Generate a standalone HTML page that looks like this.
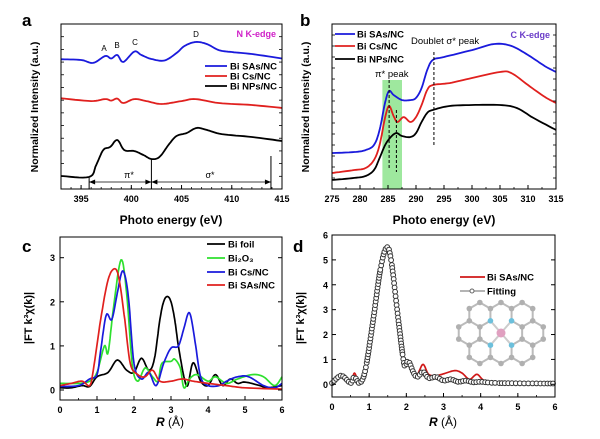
<!DOCTYPE html>
<html><head><meta charset="utf-8"><style>
html,body{margin:0;padding:0;background:#fff;}
svg{display:block;font-family:"Liberation Sans",Arial,sans-serif;}
</style></head><body>
<svg id="fig" width="600" height="439" viewBox="0 0 600 439" xmlns="http://www.w3.org/2000/svg"></svg>
<script>
// ---------- data ----------
const aEnergy = [393,395,396.2,397.4,398,398.6,399.2,400.3,401,402,403.3,404.5,405.3,406.4,407.5,408.7,410,412,415];
const aSAs    = [7.86,7.82,7.64,8.06,7.91,8.12,7.7,8.33,8.12,7.88,7.79,8.24,8.67,8.91,8.79,8.42,8.3,8.18,7.91];
const aCsEnergy = [393,396,397.4,398,398.6,399.2,400.3,401.5,403,405,406.4,408.7,412,415];
const aCs       = [5.5,5.33,5.45,5.36,5.48,5.21,5.45,5.33,5.15,5.33,5.45,5.21,5.09,4.91];
const aNPsEnergy = [393,395.8,396.5,397.2,397.9,398.6,399.3,400.3,401.2,402,402.8,403.7,404.5,405.5,406.5,407.5,409,412,415];
const aNPs       = [0.79,0.73,1.45,2.36,2.55,2.97,2.36,2.3,2.06,1.82,1.94,2.67,3.21,3.39,3.7,3.58,3.33,3.15,2.91];
const aXTicks = [395,400,405,410,415];

const bSAsE = [275,279,281,282.5,283.5,284.5,285.2,286,287.5,289,290,291,292,293,295,300,304,307,310,313,315];
const bSAs  = [2.18,2.24,2.36,2.67,3.58,5.27,5.94,5.7,5.39,5.39,5.52,6.12,7.21,7.82,8.0,8.42,8.79,8.67,8.12,7.45,7.09];
const bCsE  = [275,279,281,282.5,283.5,284.5,285.2,286,286.7,287.8,289,290,291,292,293,296,300,305,307,310,313,315];
const bCs   = [0.97,1.15,1.27,1.76,2.67,4.36,5.03,4.42,4.06,4.36,4.06,4.36,5.09,6.0,6.3,6.42,6.73,7.09,7.03,6.3,5.58,5.21];
const bNPsE = [275,279,281,282.5,283.5,284.5,285.5,286.5,287.5,289,290,291,292,293,296,300,305,308,311,315];
const bNPs  = [0.55,0.67,0.79,1.15,1.88,2.67,3.15,3.39,3.21,3.15,3.39,4.06,4.61,4.79,5.03,5.09,5.09,4.91,4.3,3.58];
const bXTicks = [275,280,285,290,295,300,305,310,315];

const cFoilR = [0,0.3,0.6,0.8,1,1.3,1.55,1.8,2,2.2,2.4,2.55,2.7,2.8,2.9,3.0,3.1,3.2,3.35,3.45,3.6,3.8,4,4.2,4.4,4.6,4.8,5,5.4,5.6,6];
const cFoil  = [0.05,0.05,0.1,0.08,0.3,0.4,0.68,0.45,0.4,0.72,0.45,0.7,1.6,2.0,2.12,2.0,1.6,1.0,0.3,0.1,0.62,0.2,0.1,0.35,0.1,0.25,0.15,0.18,0.1,0.05,0.1];
const cOxR = [0,0.5,0.8,1,1.2,1.3,1.45,1.65,1.8,1.95,2.1,2.3,2.5,2.65,2.75,3,3.1,3.25,3.35,3.5,3.7,4,4.2,4.5,4.8,5.2,5.5,5.8,6];
const cOx  = [0.15,0.15,0.2,0.4,1.0,0.85,1.9,2.95,2.2,0.6,0.2,0.5,0.3,0.2,0.6,0.65,0.7,0.5,0.05,0.25,0.35,0.2,0.3,0.15,0.25,0.35,0.3,0.1,0.3];
const cCsR = [0,0.5,0.8,1,1.1,1.25,1.4,1.55,1.7,1.85,2.0,2.2,2.4,2.6,2.8,3,3.2,3.35,3.5,3.65,3.8,4,4.3,4.5,4.8,5.1,5.5,5.8,6];
const cCs  = [0.08,0.1,0.25,0.35,0.9,1.7,1.6,2.2,2.7,2.1,0.6,0.25,0.4,0.1,0.6,0.95,1.0,1.4,1.75,1.1,0.3,0.1,0.1,0.2,0.3,0.3,0.1,0.05,0.15];
const cSAsR = [0,0.3,0.6,0.8,0.9,1.1,1.3,1.48,1.6,1.75,1.9,2.1,2.3,2.5,2.7,3,3.3,3.6,4,4.5,5,6];
const cSAs  = [0.1,0.15,0.2,0.1,0.45,1.6,2.5,2.75,2.5,1.6,0.6,0.35,0.3,0.45,0.2,0.2,0.25,0.2,0.15,0.1,0.05,0.02];
const cXTicks = [0,1,2,3,4,5,6];
const cYTicks = [0,1,2,3];

const dExpR = [0,0.25,0.5,0.6,0.7,0.75,0.9,1.1,1.3,1.47,1.6,1.8,1.95,2.05,2.2,2.3,2.45,2.6,2.8,3,3.3,3.5,3.7,3.9,4.1,4.5,5,6];
const dExp  = [0.05,0.35,0.05,0.45,0.1,0.05,0.6,2.5,4.6,5.5,4.9,2.4,0.75,0.95,0.45,0.4,0.8,0.4,0.35,0.42,0.55,0.45,0.2,0.4,0.15,0.07,0.03,0.02];
const dFitR = [0,0.25,0.5,0.6,0.75,0.9,1.1,1.3,1.47,1.6,1.8,1.95,2.05,2.2,2.3,2.45,2.6,2.8,3,3.2,3.4,3.6,3.8,4,4.5,6];
const dFit  = [0.05,0.35,0.05,0.3,0.05,0.6,2.5,4.6,5.5,4.9,2.4,0.75,0.95,0.45,0.3,0.5,0.25,0.3,0.15,0.2,0.1,0.15,0.08,0.1,0.05,0.03];
const dXTicks = [0,1,2,3,4,5,6];
const dYTicks = [0,1,2,3,4,5,6];

// ---------- helpers ----------
const NS="http://www.w3.org/2000/svg";
const svg=document.getElementById('fig');
function mk(tag,attrs,parent){const e=document.createElementNS(NS,tag);for(const k in attrs)e.setAttribute(k,attrs[k]);(parent||svg).appendChild(e);return e;}
function txt(s,x,y,attrs,parent){const t=mk('text',Object.assign({x:x,y:y},attrs),parent);t.textContent=s;return t;}
function scale(d0,d1,r0,r1){return v=>r0+(v-d0)*(r1-r0)/(d1-d0);}
function smooth(xs,ys,n){const out=[];for(let i=0;i<xs.length-1;i++){const i0=Math.max(0,i-1),i3=Math.min(xs.length-1,i+2);for(let k=0;k<n;k++){const t=k/n;const f=(a,b,c,d)=>0.5*((2*b)+(-a+c)*t+(2*a-5*b+4*c-d)*t*t+(-a+3*b-3*c+d)*t*t*t);out.push([f(xs[i0],xs[i],xs[i+1],xs[i3]),f(ys[i0],ys[i],ys[i+1],ys[i3])]);}}out.push([xs[xs.length-1],ys[ys.length-1]]);return out;}
function line(xs,ys,sx,sy,color,w,name,g){const pts=smooth(xs,ys,8).map(p=>sx(p[0]).toFixed(1)+','+sy(p[1]).toFixed(1)).join(' ');const p=mk('polyline',{points:pts,fill:'none',stroke:color,'stroke-width':w,'stroke-linejoin':'round'},g);


return p;}
function frame(x0,y0,x1,y1,name){const r=mk('rect',{x:x0,y:y0,width:x1-x0,height:y1-y0,fill:'none',stroke:'#000','stroke-width':1});

}
function xticks(ticks,sx,y1,y0,minorStep,lo,hi,name){const g=mk('g',{});


for(let v=lo;v<=hi+1e-9;v+=minorStep){mk('line',{x1:sx(v),x2:sx(v),y1:y1,y2:y1-2,stroke:'#000','stroke-width':0.8},g);}
ticks.forEach(v=>{mk('line',{x1:sx(v),x2:sx(v),y1:y1,y2:y1-4,stroke:'#000','stroke-width':1},g);txt(String(v),sx(v),y1+13,{'font-size':9,'font-weight':'bold','text-anchor':'middle'},g);});}
function sideTicks(x0,x1,y0,y1,n){for(let i=1;i<n;i++){const y=y0+(y1-y0)*i/n;mk('line',{x1:x0,x2:x0+3,y1:y,y2:y,stroke:'#000','stroke-width':0.8});mk('line',{x1:x1,x2:x1-3,y1:y,y2:y,stroke:'#000','stroke-width':0.8});}}

// ---------- panel a ----------
(function(){
const X0=61,X1=282,Y0=24,Y1=189;
const sx=scale(393,415,X0,X1), sy=scale(0,10,Y1,Y0);
const g=mk('g',{});


txt('a',22,26,{'font-size':17,'font-weight':'bold'},g);
sideTicks(X0,X1,Y0,Y1,13);
line(aEnergy,aSAs,sx,sy,'#1a1adc',1.8,'a-series-bi-sas',g);
line(aCsEnergy,aCs,sx,sy,'#e0201e',1.8,'a-series-bi-cs',g);
line(aNPsEnergy,aNPs,sx,sy,'#000',1.8,'a-series-bi-nps',g);
[[395.8,178],[402,159],[413.9,156]].forEach(a=>mk('line',{x1:sx(a[0]),x2:sx(a[0]),y1:a[1],y2:Y1,stroke:'#000','stroke-width':1},g));
mk('line',{x1:sx(395.8),x2:sx(413.9),y1:182,y2:182,stroke:'#000','stroke-width':0.8},g);
[[395.8,1],[402,-1],[402,1],[413.9,-1]].forEach(a=>{const x=sx(a[0]);mk('path',{d:`M${x},182 l${a[1]*6},-2.5 l0,5 z`,fill:'#000'},g);});
txt('π*',129,178,{'font-size':9,'text-anchor':'middle'},g);
txt('σ*',210,178,{'font-size':9,'text-anchor':'middle'},g);
[['A',104,51],['B',117,48],['C',135,45],['D',196,37]].forEach(a=>txt(a[0],a[1],a[2],{'font-size':8,'text-anchor':'middle'},g));
txt('N K-edge',276,37,{'font-size':9,'font-weight':'bold',fill:'#d020c8','text-anchor':'end'},g);
[['Bi SAs/NC','#1a1adc',66],['Bi Cs/NC','#e0201e',76],['Bi NPs/NC','#000',86]].forEach(l=>{const lg=mk('g',{},g);


mk('line',{x1:205,x2:227,y1:l[2],y2:l[2],stroke:l[1],'stroke-width':1.8},lg);txt(l[0],230,l[2]+3.5,{'font-size':9.5,'font-weight':'bold'},lg);});
frame(X0,Y0,X1,Y1,'a-plot-frame');
xticks(aXTicks,sx,Y1,Y0,1,393,415,'a-x-axis');
const yt=txt('Normalized Intensity (a.u.)',0,0,{'font-size':10.5,'font-weight':'bold','text-anchor':'middle',transform:'translate(38,107) rotate(-90)'},g);

const xt=txt('Photo energy (eV)',171,224,{'font-size':12,'font-weight':'bold','text-anchor':'middle'},g);

})();

// ---------- panel b ----------
(function(){
const X0=332,X1=556,Y0=24,Y1=189;
const sx=scale(275,315,X0,X1), sy=scale(0,10,Y1,Y0);
const g=mk('g',{});


txt('b',300,26,{'font-size':17,'font-weight':'bold'},g);
const band=mk('rect',{x:sx(284),y:80,width:sx(287.5)-sx(284),height:Y1-80,fill:'#9ee89e'},g);


sideTicks(X0,X1,Y0,Y1,15);
line(bSAsE,bSAs,sx,sy,'#1a1adc',1.8,'b-series-bi-sas',g);
line(bCsE,bCs,sx,sy,'#e0201e',1.8,'b-series-bi-cs',g);
line(bNPsE,bNPs,sx,sy,'#000',1.8,'b-series-bi-nps',g);
[[285.2,80,170],[286.5,110,172],[293.2,52,145]].forEach(a=>mk('line',{x1:sx(a[0]),x2:sx(a[0]),y1:a[1],y2:a[2],stroke:'#000','stroke-width':1,'stroke-dasharray':'3,2'},g));
txt('Doublet σ* peak',411,44,{'font-size':9.5},g);
txt('π* peak',375,77,{'font-size':9.5},g);
txt('C K-edge',550,38,{'font-size':9,'font-weight':'bold',fill:'#6a3cc8','text-anchor':'end'},g);
[['Bi SAs/NC','#1a1adc',34],['Bi Cs/NC','#e0201e',46],['Bi NPs/NC','#000',59]].forEach(l=>{const lg=mk('g',{},g);


mk('line',{x1:335,x2:355,y1:l[2],y2:l[2],stroke:l[1],'stroke-width':1.8},lg);txt(l[0],357,l[2]+3.5,{'font-size':9.5,'font-weight':'bold'},lg);});
frame(X0,Y0,X1,Y1,'b-plot-frame');
xticks(bXTicks,sx,Y1,Y0,2.5,275,315,'b-x-axis');
txt('Normalized Intensity (a.u.)',0,0,{'font-size':10.5,'font-weight':'bold','text-anchor':'middle',transform:'translate(309,107) rotate(-90)'},g);
txt('Photo energy (eV)',444,224,{'font-size':12,'font-weight':'bold','text-anchor':'middle'},g);
})();

// ---------- panel c ----------
(function(){
const X0=60,X1=282,Y0=237,Y1=400;
const sx=scale(0,6,X0,X1), sy=scale(0,3,390,257.7);
const g=mk('g',{});


txt('c',22,252,{'font-size':17,'font-weight':'bold'},g);
line(cFoilR,cFoil,sx,sy,'#000',1.7,'c-series-bi-foil',g);
line(cOxR,cOx,sx,sy,'#2ee02e',1.7,'c-series-bi2o3',g);
line(cCsR,cCs,sx,sy,'#1a1adc',1.7,'c-series-bi-cs',g);
line(cSAsR,cSAs,sx,sy,'#e0201e',1.7,'c-series-bi-sas',g);
frame(X0,Y0,X1,Y1,'c-plot-frame');
xticks(cXTicks,sx,Y1,Y0,0.5,0,6,'c-x-axis');
cYTicks.forEach(v=>{mk('line',{x1:X0,x2:X0+4,y1:sy(v),y2:sy(v),stroke:'#000'},g);mk('line',{x1:X1,x2:X1-4,y1:sy(v),y2:sy(v),stroke:'#000'},g);txt(String(v),X0-5,sy(v)+3.5,{'font-size':9,'font-weight':'bold','text-anchor':'end'},g);});
[['Bi foil','#000',244],['Bi₂O₃','#2ee02e',258],['Bi Cs/NC','#1a1adc',272],['Bi SAs/NC','#e0201e',285]].forEach(l=>{const lg=mk('g',{},g);


mk('line',{x1:207,x2:225,y1:l[2],y2:l[2],stroke:l[1],'stroke-width':1.8},lg);txt(l[0],228,l[2]+3.5,{'font-size':9.5,'font-weight':'bold'},lg);});
txt('|FT k³χ(k)|',0,0,{'font-size':11,'font-weight':'bold','text-anchor':'middle',transform:'translate(32,318) rotate(-90)'},g);
const xt=txt('',170,426,{'font-size':12,'text-anchor':'middle'},g);
const b=mk('tspan',{'font-weight':'bold','font-style':'italic'},xt);b.textContent='R';const r=mk('tspan',{},xt);r.textContent=' (Å)';
})();

// ---------- panel d ----------
(function(){
const X0=332,X1=555,Y0=235,Y1=397;
const sx=scale(0,6,X0,X1), sy=scale(0,6,384.3,235);
const g=mk('g',{});


txt('d',293,252,{'font-size':17,'font-weight':'bold'},g);
line(dExpR,dExp,sx,sy,'#d01818',1.7,'d-series-bi-sas',g);
const fp=smooth(dFitR,dFit,16);
line(dFitR,dFit,sx,sy,'#555',1.2,'d-series-fitting-line',g);
let lx=-1e9,ly=-1e9;
fp.forEach(p=>{const X=sx(p[0]),Y=sy(p[1]);if(Math.hypot(X-lx,Y-ly)>=2.4){lx=X;ly=Y;mk('circle',{cx:X.toFixed(1),cy:Y.toFixed(1),r:2.4,fill:'#fff',stroke:'#333','stroke-width':1},g);}});
frame(X0,Y0,X1,Y1,'d-plot-frame');
xticks(dXTicks,sx,Y1,Y0,0.5,0,6,'d-x-axis');
dYTicks.forEach(v=>{mk('line',{x1:X0,x2:X0+4,y1:sy(v),y2:sy(v),stroke:'#000'},g);mk('line',{x1:X1,x2:X1-4,y1:sy(v),y2:sy(v),stroke:'#000'},g);txt(String(v),X0-4,sy(v)+3.5,{'font-size':9,'font-weight':'bold','text-anchor':'end'},g);});
const l1=mk('g',{},g);


mk('line',{x1:460,x2:485,y1:277,y2:277,stroke:'#d01818','stroke-width':1.8},l1);txt('Bi SAs/NC',487,280.5,{'font-size':9.5,'font-weight':'bold'},l1);
const l2=mk('g',{},g);


mk('line',{x1:460,x2:485,y1:291,y2:291,stroke:'#888','stroke-width':1.2},l2);mk('circle',{cx:472,cy:291,r:2,fill:'#fff',stroke:'#666'},l2);txt('Fitting',487,294.5,{'font-size':9.5,'font-weight':'bold'},l2);
const mol=mk('g',{},g);


const cx=501,cy=333,s=12.2,w=s*Math.sqrt(3);
const centers=[[-w/2,0],[w/2,0],[-1.5*w,0],[1.5*w,0],[-w,-1.5*s],[0,-1.5*s],[w,-1.5*s],[-w,1.5*s],[0,1.5*s],[w,1.5*s]];
const verts={},edges={};
centers.forEach(c=>{const pts=[];for(let k=0;k<6;k++){const a=Math.PI/180*(60*k+30);pts.push([cx+c[0]+s*Math.cos(a),cy+c[1]+s*Math.sin(a)]);}
for(let k=0;k<6;k++){const p=pts[k],q=pts[(k+1)%6];const kp=p.map(v=>Math.round(v)).join(','),kq=q.map(v=>Math.round(v)).join(',');verts[kp]=p;verts[kq]=q;edges[[kp,kq].sort().join('|')]=[p,q];}});
const skip=p=>Math.abs(p[0]-cx)<1&&Math.abs(Math.abs(p[1]-cy)-s/2)<1;
Object.values(edges).forEach(e=>{if(skip(e[0])||skip(e[1]))return;mk('line',{x1:e[0][0],y1:e[0][1],x2:e[1][0],y2:e[1][1],stroke:'#bbb','stroke-width':2},mol);});
Object.values(verts).forEach(p=>{if(skip(p))return;const isN=Math.abs(Math.abs(p[0]-cx)-w/2)<1&&Math.abs(Math.abs(p[1]-cy)-s)<1;
if(isN)mk('line',{x1:p[0],y1:p[1],x2:cx,y2:cy,stroke:'#ccc','stroke-width':2},mol);
mk('circle',{cx:p[0],cy:p[1],r:2.8,fill:isN?'#6cc0dc':'#b0b0b0'},mol);});
mk('circle',{cx:cx,cy:cy,r:4.5,fill:'#e0a0c0'},mol);
txt('|FT k³χ(k)|',0,0,{'font-size':11,'font-weight':'bold','text-anchor':'middle',transform:'translate(304,318) rotate(-90)'},g);
const xt=txt('',443,426,{'font-size':12,'text-anchor':'middle'},g);
const b=mk('tspan',{'font-weight':'bold','font-style':'italic'},xt);b.textContent='R';const r=mk('tspan',{},xt);r.textContent=' (Å)';
})();
</script>
</body></html>
